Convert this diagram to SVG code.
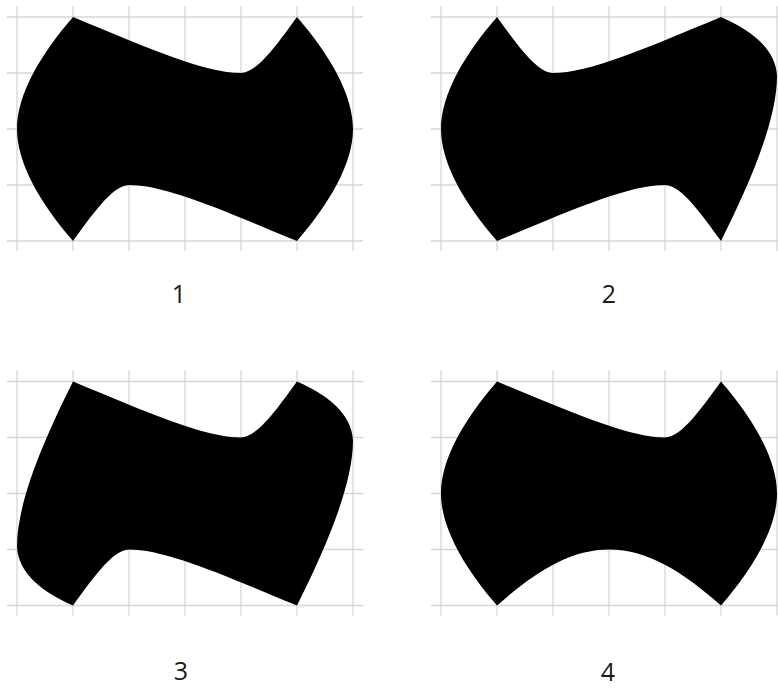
<svg xmlns="http://www.w3.org/2000/svg" xmlns:xlink="http://www.w3.org/1999/xlink" width="778" height="688" viewBox="0 0 778 688">
<style>
.grid line{stroke:#d6d6d6;stroke-width:1.3;fill:none}
.tile{fill:#000;stroke:none}
.lbl{font-family:"Open Sans","Noto Sans","DejaVu Sans",sans-serif;font-size:25px;fill:#1a1a1a;text-anchor:middle}
</style>
<defs>
<g id="grid" class="grid">
<line x1="7" y1="17" x2="363" y2="17"/>
<line x1="7" y1="73" x2="363" y2="73"/>
<line x1="7" y1="129" x2="363" y2="129"/>
<line x1="7" y1="185" x2="363" y2="185"/>
<line x1="7" y1="241" x2="363" y2="241"/>
<line x1="17" y1="6" x2="17" y2="251"/>
<line x1="73" y1="6" x2="73" y2="251"/>
<line x1="129" y1="6" x2="129" y2="251"/>
<line x1="185" y1="6" x2="185" y2="251"/>
<line x1="241" y1="6" x2="241" y2="251"/>
<line x1="297" y1="6" x2="297" y2="251"/>
<line x1="353" y1="6" x2="353" y2="251"/>
</g>
</defs>
<rect width="778" height="688" fill="#fff"/>
<g id="panel1">
<use xlink:href="#grid"/>
<path class="tile" d="M73,17 C150,49 205,73 241,73 C258,73 280,40 297,17 C330,55 353,95 353,129 C353,163 330,203 297,241 C220,209 165,185 129,185 C112,185 90,218 73,241 C40,203 17,163 17,129 C17,95 40,55 73,17 Z"/>
<text class="lbl" x="179" y="303">1</text>
</g>
<g id="panel2">
<g transform="translate(424,0)">
<use xlink:href="#grid"/>
<path class="tile" d="M73,17 C90,40 112,73 129,73 C165,73 220,49 297,17 C327,30 352,49 353,76 C353,121 325,185 297,241 C280,218 258,185 241,185 C205,185 150,209 73,241 C40,203 17,163 17,129 C17,95 40,55 73,17 Z"/>
</g>
<text class="lbl" x="609" y="303">2</text>
</g>
<g id="panel3">
<g transform="translate(0,364.5)">
<use xlink:href="#grid"/>
<path class="tile" d="M73,17 C150,49 205,73 241,73 C258,73 280,40 297,17 C327,30 352,49 353,76 C353,121 325,185 297,241 C220,209 165,185 129,185 C112,185 90,218 73,241 C43,228 18,209 17,182 C17,137 45,73 73,17 Z"/>
</g>
<text class="lbl" x="181" y="680">3</text>
</g>
<g id="panel4">
<g transform="translate(424,364.5)">
<use xlink:href="#grid"/>
<path class="tile" d="M73,17 C150,49 205,73 241,73 C258,73 280,40 297,17 C330,55 353,95 353,129 C353,163 330,203 297,241 C259,207.5 224,185 185,185 C146,185 111,207.5 73,241 C40,203 17,163 17,129 C17,95 40,55 73,17 Z"/>
</g>
<text class="lbl" x="608" y="681">4</text>
</g>
</svg>
